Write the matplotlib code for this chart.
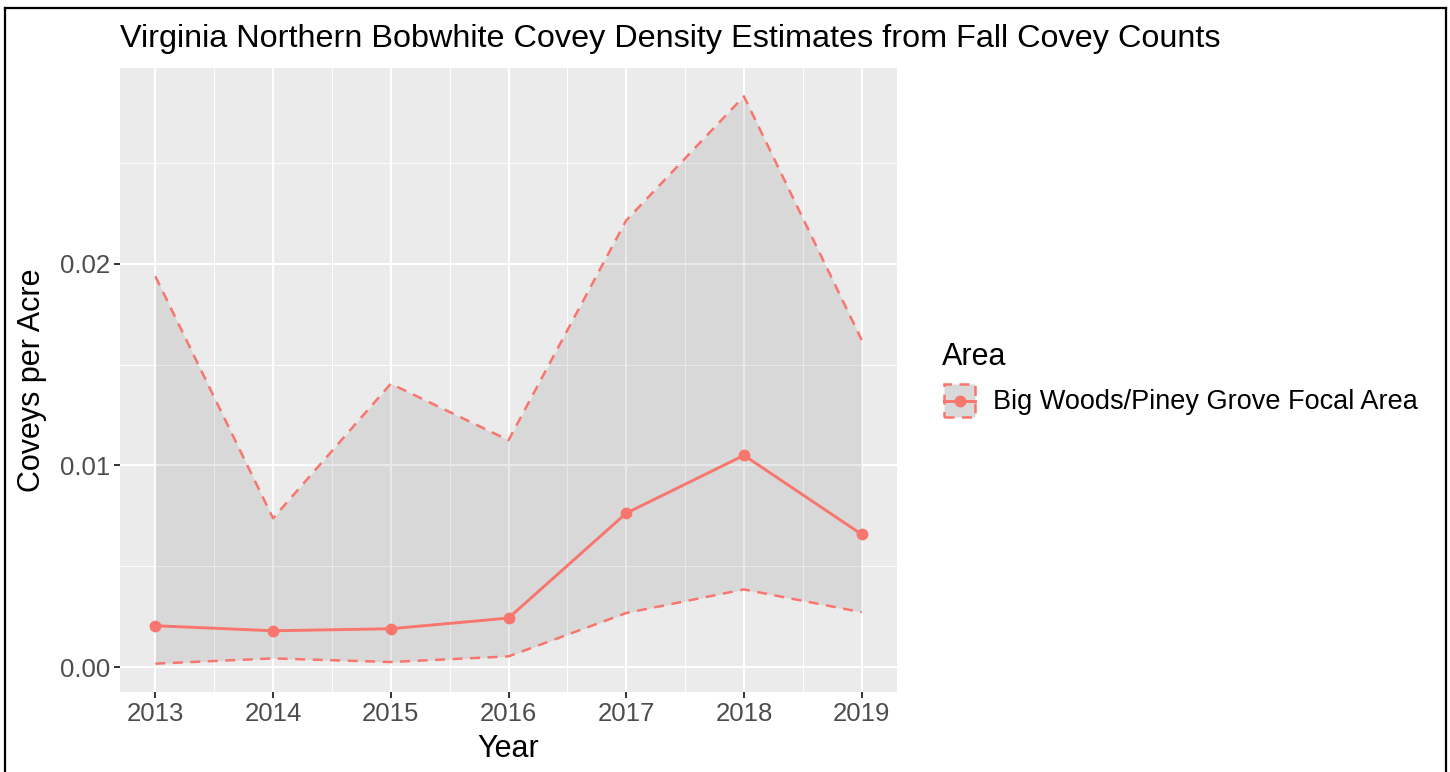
import matplotlib
matplotlib.use("Agg")
import matplotlib.pyplot as plt
from matplotlib.lines import Line2D
from matplotlib.patches import Rectangle
import numpy as np

plt.rcParams['font.family'] = ['Liberation Sans', 'DejaVu Sans']

# Fall covey count density estimates (coveys per acre)
years = [2013, 2014, 2015, 2016, 2017, 2018, 2019]
density = [0.00205, 0.0018, 0.0019, 0.00243, 0.00763, 0.0105, 0.00658]
lower_ci = [0.00017, 0.00043, 0.00025, 0.00053, 0.00268, 0.00385, 0.00272]
upper_ci = [0.01938, 0.00738, 0.01405, 0.01125, 0.02215, 0.0283, 0.01622]
y_ticks = [0.00, 0.01, 0.02]
y_tick_labels = ["0.00", "0.01", "0.02"]
area_name = "Big Woods/Piney Grove Focal Area"

W, H = 1450, 772
fig = plt.figure(figsize=(W / 100, H / 100), dpi=100)
fig.patch.set_facecolor("white")

def fx(px):
    return px / W

def fy(py):
    return 1 - py / H

coral = "#F8766D"
panel_l, panel_r, panel_t, panel_b = 120, 897, 68, 692
ax = fig.add_axes([fx(panel_l), fy(panel_b), fx(panel_r - panel_l), (panel_b - panel_t) / H])
ax.set_facecolor("#EBEBEB")
for s in ax.spines.values():
    s.set_visible(False)

# ggplot-style 5% expansion of the data range
x_span = max(years) - min(years)
ax.set_xlim(min(years) - 0.05 * x_span, max(years) + 0.05 * x_span)
y_lo, y_hi = min(lower_ci), max(upper_ci)
y_span = y_hi - y_lo
ax.set_ylim(y_lo - 0.05 * y_span, y_hi + 0.05 * y_span)

# grid: major and minor white lines
ax.set_xticks(years)
ax.set_xticks([y + 0.5 for y in years[:-1]], minor=True)
ax.set_yticks(y_ticks)
ax.set_yticklabels(y_tick_labels)
ax.set_yticks([0.005, 0.015, 0.025], minor=True)
ax.grid(which="major", color="white", linewidth=1.5, zorder=0)
ax.grid(which="minor", color="white", linewidth=0.7, zorder=0)
ax.set_axisbelow(True)
ax.tick_params(which="major", length=4, width=1.4, color="#333333", pad=3,
               labelsize=18.5, labelcolor="#4D4D4D")
ax.tick_params(which="minor", length=0)

# confidence ribbon with dashed bounds
ax.fill_between(years, lower_ci, upper_ci, color="#7F7F7F", alpha=0.17,
                linewidth=0, zorder=2)
ax.plot(years, upper_ci, color=coral, linewidth=1.8, dashes=(4, 3), zorder=3)
ax.plot(years, lower_ci, color=coral, linewidth=1.8, dashes=(4, 3), zorder=3)

# density estimates
ax.plot(years, density, color=coral, linewidth=2.1, marker="o", markersize=7.5,
        zorder=4)

# titles
fig.text(fx(120), fy(47), "Virginia Northern Bobwhite Covey Density Estimates from Fall Covey Counts",
         fontsize=23.3, color="black", ha="left", va="baseline")
fig.text(fx((panel_l + panel_r) / 2), fy(757), "Year", fontsize=22, color="black",
         ha="center", va="baseline")
fig.text(fx(32), fy((panel_t + panel_b) / 2), "Coveys per Acre", fontsize=22,
         color="black", ha="center", va="center", rotation=90)

# legend
fig.text(fx(942), fy(365), "Area", fontsize=22, color="black", ha="left", va="baseline")
key = fig.add_axes([fx(942), fy(419), fx(35), 37 / H])
key.set_xlim(0, 1)
key.set_ylim(0, 1)
key.axis("off")
key.add_patch(Rectangle((0.05, 0.05), 0.9, 0.9, facecolor="#D9D9D9", edgecolor=coral,
                        linewidth=1.8, linestyle=(0, (4, 3)), zorder=1))
key.add_line(Line2D([0.05, 0.95], [0.5, 0.5], color=coral, linewidth=2.1, zorder=2))
key.add_line(Line2D([0.5], [0.5], color=coral, marker="o", markersize=7.5, zorder=3))
fig.text(fx(993), fy(409), area_name, fontsize=19.5, color="black", ha="left", va="baseline")

# outer frame
frame_kw = dict(color="black", linewidth=1.6, transform=fig.transFigure)
fig.add_artist(Line2D([fx(5), fx(5)], [0, fy(8)], **frame_kw))
fig.add_artist(Line2D([fx(5), fx(1446)], [fy(8), fy(8)], **frame_kw))
fig.add_artist(Line2D([fx(1446), fx(1446)], [fy(8), 0], **frame_kw))

fig.savefig("out.png", dpi=100)
